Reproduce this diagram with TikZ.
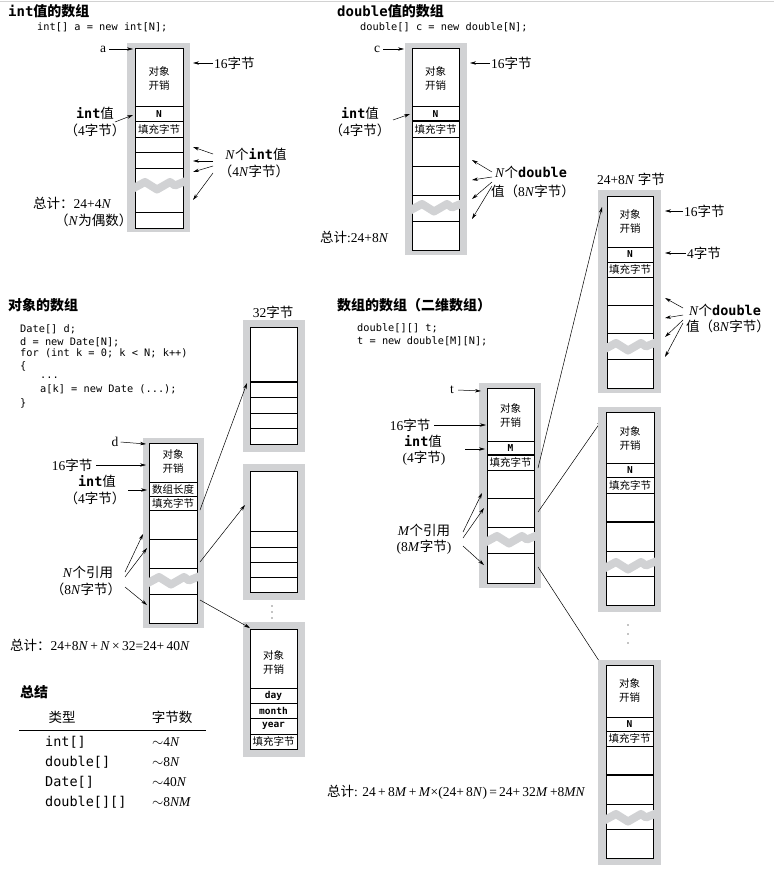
\documentclass[tikz,border=0pt]{standalone}
\usepackage{fontspec}
\setmainfont{Liberation Serif}
\setmonofont{DejaVu Sans Mono}
\newfontfamily\cjk{Noto Sans CJK SC}
\newcommand{\zh}[1]{{\cjk #1}}
\newcommand{\kw}[1]{{\ttfamily\bfseries #1}}
\usetikzlibrary{arrows.meta}
\definecolor{framegray}{RGB}{209,210,212}

\begin{document}
\begin{tikzpicture}[x=1pt,y=-1pt,
  gframe/.style={fill=framegray},
  cell/.style={draw,fill=white,line width=0.8pt},
  rowline/.style={line width=0.8pt},
  thickrow/.style={line width=1.6pt},
  ptr/.style={-{Stealth[length=6pt,width=3.4pt]},line width=0.5pt},
  lbl/.style={inner sep=0pt,font=\fontsize{13.5}{17}\selectfont},
  heading/.style={anchor=west,inner sep=0pt,font=\bfseries\fontsize{14}{16}\selectfont},
  src/.style={anchor=west,inner sep=0pt,font=\ttfamily\fontsize{10.3}{12.3}\selectfont},
  incell/.style={inner sep=0pt,align=center,font=\cjk\fontsize{10.5}{14}\selectfont},
  field/.style={inner sep=0pt,font=\ttfamily\bfseries\fontsize{9.5}{11}\selectfont},
  brk/.pic={\draw[draw=framegray,line width=8pt,line join=round] (-3,3) -- (10,-4) -- (22,3.5) -- (35,-4) -- (40,-0.5) -- (51,-5);}
]
\useasboundingbox (0,0) rectangle (774,869);
\draw[gray!35,line width=1pt] (0,2) -- (774,2);

% ---------- int[] ----------
\node[heading] (h-int) at (8,11) {\kw{int}\zh{值的数组}};
\node[src] (s-int) at (37,27) {int[] a = new int[N];};
\fill[gframe] (127,43) rectangle (190,232);
\draw[cell] (135,48) rectangle (183,228);
\foreach \y in {106,121,137,152,168,212} \draw[rowline] (135,\y) -- (183,\y);
\pic at (135,186) {brk};
\node[incell] (a-oh) at (159,79) {对象\\开销};
\node[field] (a-len) at (159,114) {N};
\node[incell] (a-pad) at (159,129.5) {填充字节};
\node[lbl] (a) at (103,49) {a};
\coordinate (a-in) at (133,49);
\draw[ptr] ([xshift=3pt]a.east) -- (a-in);
\node[lbl,anchor=west] (a-16) at (214,63) {16\zh{字节}};
\coordinate (a-hd) at (193,63);
\draw[ptr] ([xshift=-1pt]a-16.west) -- (a-hd);
\node[lbl] (a-int) at (95,113) {\kw{int}\zh{值}};
\node[lbl] (a-int4) at (95,130) {\zh{（}4\zh{字节）}};
\coordinate (a-i0) at (115,122);
\coordinate (a-i1) at (133,115);
\draw[ptr] (a-i0) -- (a-i1);
\node[lbl] (a-vals) at (256,154) {\textit{N}\zh{个}\kw{int}\zh{值}};
\node[lbl] (a-vals4) at (254,171) {\zh{（}4\textit{N}\zh{字节）}};
\foreach \s/\t in {154/147,161/161,166/172,173/200} \draw[ptr] (213,\s) -- (193,\t);
\node[lbl,anchor=west] (a-tot) at (33,203) {\zh{总计：}24+4\textit{N}};
\node[lbl,anchor=west] (a-even) at (55,220) {\zh{（}\textit{N}\zh{为偶数）}};

% ---------- double[] ----------
\node[heading] (h-dbl) at (337,11) {\kw{double}\zh{值的数组}};
\node[src] (s-dbl) at (360,27) {double[] c = new double[N];};
\fill[gframe] (405,43) rectangle (467,255);
\draw[cell] (412,48) rectangle (459,250);
\foreach \y in {106,137,166,195,221} \draw[rowline] (412,\y) -- (459,\y);
\draw[thickrow] (412,121) -- (459,121);
\pic at (412,208) {brk};
\node[incell] (c-oh) at (435.5,79) {对象\\开销};
\node[field] (c-len) at (435.5,114) {N};
\node[incell] (c-pad) at (435.5,129.5) {填充字节};
\node[lbl] (c) at (377,49) {c};
\coordinate (c-in) at (404,49);
\draw[ptr] ([xshift=3pt]c.east) -- (c-in);
\node[lbl,anchor=west] (c-16) at (491,63) {16\zh{字节}};
\coordinate (c-hd) at (470,63);
\draw[ptr] ([xshift=-1pt]c-16.west) -- (c-hd);
\node[lbl] (c-int) at (360,113) {\kw{int}\zh{值}};
\node[lbl] (c-int4) at (360,130) {\zh{（}4\zh{字节）}};
\coordinate (c-i0) at (393,120);
\coordinate (c-i1) at (410,114);
\draw[ptr] (c-i0) -- (c-i1);
\node[lbl] (c-vals) at (531,172) {\textit{N}\zh{个}\kw{double}};
\node[lbl] (c-vals8) at (533,191) {\zh{值（}8\textit{N}\zh{字节）}};
\foreach \s/\t in {172/160,177/180,182/199,186/219} \draw[ptr] (492,\s) -- (472,\t);
\node[lbl,anchor=west] (c-tot) at (320,237) {\zh{总计}:24+8\textit{N}};

% ---------- double[] row of t (top) ----------
\node[lbl] (r1-size) at (631,179) {24+8\textit{N} \zh{字节}};
\fill[gframe] (598,190) rectangle (661,393);
\draw[cell] (607,196) rectangle (653,388);
\foreach \y in {247,262,277,305,333,359} \draw[rowline] (607,\y) -- (653,\y);
\pic at (606,347) {brk};
\node[incell] (r1-oh) at (630,222) {对象\\开销};
\node[field] (r1-len) at (630,254.5) {N};
\node[incell] (r1-pad) at (630,269.5) {填充字节};
\node[lbl,anchor=west] (r1-16) at (684,211) {16\zh{字节}};
\coordinate (r1-hd) at (665,211);
\draw[ptr] ([xshift=-1pt]r1-16.west) -- (r1-hd);
\node[lbl,anchor=west] (r1-4) at (687,253) {4\zh{字节}};
\coordinate (r1-n) at (665,253);
\draw[ptr] ([xshift=-1pt]r1-4.west) -- (r1-n);
\node[lbl] (r1-vals) at (725,310) {\textit{N}\zh{个}\kw{double}};
\node[lbl] (r1-vals8) at (728,326) {\zh{值（}8\textit{N}\zh{字节）}};
\foreach \s/\t in {308/298,315/318,320/337,323/357} \draw[ptr] (683,\s) -- (665,\t);

% ---------- Date[] ----------
\node[heading] (h-obj) at (8,305) {\zh{对象的数组}};
\node[src] (s-obj1) at (20,329) {Date[] d;};
\node[src] (s-obj2) at (20,342) {d = new Date[N];};
\node[src] (s-obj3) at (20,353) {for (int k = 0; k < N; k++)};
\node[src] (s-obj4) at (20,366) {\{};
\node[src] (s-obj5) at (40,378) {...};
\node[src] (s-obj6) at (40,389) {a[k] = new Date (...);};
\node[src] (s-obj7) at (20,403) {\}};
\fill[gframe] (143,438) rectangle (204,628);
\draw[cell] (149,443) rectangle (197,623);
\foreach \y in {482,496,510,539,568,594} \draw[rowline] (149,\y) -- (197,\y);
\pic at (149,581) {brk};
\node[incell] (d-oh) at (173,462) {对象\\开销};
\node[incell] (d-len) at (173,489) {数组长度};
\node[incell] (d-pad) at (173,503) {填充字节};
\node[lbl] (d) at (115,442) {d};
\coordinate (d-in) at (146,444);
\draw[ptr] ([xshift=2pt]d.east) -- (d-in);
\node[lbl] (d-16) at (72,465) {16\zh{字节}};
\coordinate (d-hd) at (146,465);
\draw[ptr] ([xshift=4pt]d-16.east) -- (d-hd);
\node[lbl] (d-int) at (97,481) {\kw{int}\zh{值}};
\node[lbl] (d-int4) at (95,498) {\zh{（}4\zh{字节）}};
\coordinate (d-i0) at (128,490);
\coordinate (d-i1) at (147,490);
\draw[ptr] (d-i0) -- (d-i1);
\node[lbl] (d-refs) at (88,572) {\textit{N}\zh{个引用}};
\node[lbl] (d-refs8) at (86,589) {\zh{（}8\textit{N}\zh{字节）}};
\foreach \s/\u/\t in {572/143/534,577/147/548,587/147/605} \draw[ptr] (125,\s) -- (\u,\t);
\node[lbl,anchor=west] (d-tot) at (10,645) {\zh{总计：}24+8\textit{N}\,+\,\textit{N}\,×\,32=24+\,40\textit{N}};

% Date objects
\node[lbl] (e-size) at (273,312) {32\zh{字节}};
\fill[gframe] (243,320) rectangle (305,452);
\draw[cell] (250,327) rectangle (297,444);
\draw[thickrow] (250,382) -- (297,382);
\foreach \y in {397,413,428} \draw[rowline] (250,\y) -- (297,\y);
\fill[gframe] (243,464) rectangle (305,600);
\draw[cell] (250,471) rectangle (297,592);
\foreach \y in {531,547,562,577} \draw[rowline] (250,\y) -- (297,\y);
\foreach \y in {606,612,618} \fill (272,\y) circle (0.6);
\fill[gframe] (243,622) rectangle (305,757);
\draw[cell] (250,629) rectangle (297,749);
\foreach \y in {688,703,718,734} \draw[rowline] (250,\y) -- (297,\y);
\node[incell] (e-oh) at (273.5,663) {对象\\开销};
\node[field] (e-day) at (273.5,695.5) {day};
\node[field] (e-month) at (273.5,710.5) {month};
\node[field] (e-year) at (273.5,726) {year};
\node[incell] (e-pad) at (273.5,741.5) {填充字节};
\coordinate (d-r1) at (200,510);
\coordinate (d-r2) at (200,562);
\coordinate (d-r3) at (200,600);
\coordinate (e1) at (247,383);
\coordinate (e2) at (245,505);
\coordinate (e3) at (250,628);
\draw[ptr] (d-r1) -- (e1);
\draw[ptr] (d-r2) -- (e2);
\draw[ptr] (d-r3) -- (e3);

% ---------- summary ----------
\node[heading] (h-sum) at (20,692) {\zh{总结}};
\node[lbl] (sum-type) at (62,717) {\zh{类型}};
\node[lbl] (sum-bytes) at (172,717) {\zh{字节数}};
\draw[line width=0.8pt] (19,730) -- (206,730);
\foreach \y/\ty/\by in {742/int[]/4\textit{N},762/double[]/8\textit{N},782/Date[]/40\textit{N},802/double[][]/8\textit{NM}} {
  \node[inner sep=0pt,anchor=west,font=\ttfamily\fontsize{13.5}{16}\selectfont] at (45,\y) {\ty};
  \node[lbl,anchor=west] at (152,\y) {$\sim$\by};
}

% ---------- double[][] ----------
\node[heading] (h-2d) at (337,305) {\zh{数组的数组（二维数组）}};
\node[src] (s-2d1) at (357,328) {double[][] t;};
\node[src] (s-2d2) at (357,341) {t = new double[M][N];};
\fill[gframe] (479,383) rectangle (541,588);
\draw[cell] (487,388) rectangle (534,583);
\foreach \y in {441,470,498,527,553} \draw[rowline] (487,\y) -- (534,\y);
\draw[thickrow] (487,455) -- (534,455);
\pic at (487,540) {brk};
\node[incell] (t-oh) at (510.5,416) {对象\\开销};
\node[field] (t-len) at (510.5,448) {M};
\node[incell] (t-pad) at (510.5,462.5) {填充字节};
\node[lbl] (t) at (452,390) {t};
\coordinate (t-in) at (481,391);
\draw[ptr] ([xshift=4pt]t.east) -- (t-in);
\node[lbl] (t-16) at (410,425) {16\zh{字节}};
\coordinate (t-hd) at (486,425);
\draw[ptr] ([xshift=4pt]t-16.east) -- (t-hd);
\node[lbl] (t-int) at (423,441) {\kw{int}\zh{值}};
\node[lbl] (t-int4) at (424,458) {(4\zh{字节})};
\coordinate (t-i0) at (465,449);
\coordinate (t-i1) at (485,449);
\draw[ptr] (t-i0) -- (t-i1);
\node[lbl] (t-refs) at (424,530) {\textit{M}\zh{个引用}};
\node[lbl] (t-refs8) at (424,547) {(8\textit{M}\zh{字节})};
\foreach \s/\u/\t in {532/482/493,538/484/508,546/484/565} \draw[ptr] (463,\s) -- (\u,\t);
\coordinate (t-r1) at (538,468);
\coordinate (t-r2) at (538,512);
\coordinate (t-r3) at (538,567);
\coordinate (r1) at (602,207);
\coordinate (r2) at (602,420);
\coordinate (r3) at (603,667);
\draw[ptr] (t-r1) -- (r1);
\draw[ptr] (t-r2) -- (r2);
\draw[ptr] (t-r3) -- (r3);

% middle row
\fill[gframe] (598,407) rectangle (661,612);
\draw[cell] (606,412) rectangle (654,605);
\foreach \y in {463,477,493,551,576} \draw[rowline] (606,\y) -- (654,\y);
\draw[thickrow] (606,522) -- (654,522);
\pic at (606,566) {brk};
\node[incell] (r2-oh) at (630,439) {对象\\开销};
\node[field] (r2-len) at (630,470) {N};
\node[incell] (r2-pad) at (630,485) {填充字节};
\foreach \y in {625,634,643} \fill (628,\y) circle (0.6);

% last row
\fill[gframe] (598,660) rectangle (661,865);
\draw[cell] (606,665) rectangle (653,858);
\foreach \y in {717,731,746,804,829} \draw[rowline] (606,\y) -- (653,\y);
\draw[thickrow] (606,775) -- (653,775);
\pic at (606,818) {brk};
\node[incell] (r3-oh) at (629.5,691) {对象\\开销};
\node[field] (r3-len) at (629.5,724) {N};
\node[incell] (r3-pad) at (629.5,738.5) {填充字节};
\node[lbl,anchor=west] (t-tot) at (327,792) {\zh{总计}: 24\,+\,8\textit{M}\,+\,\textit{M}×(24+\,8\textit{N})\,=\,24+\,32\textit{M}\,+8\textit{MN}};

\end{tikzpicture}
\end{document}
